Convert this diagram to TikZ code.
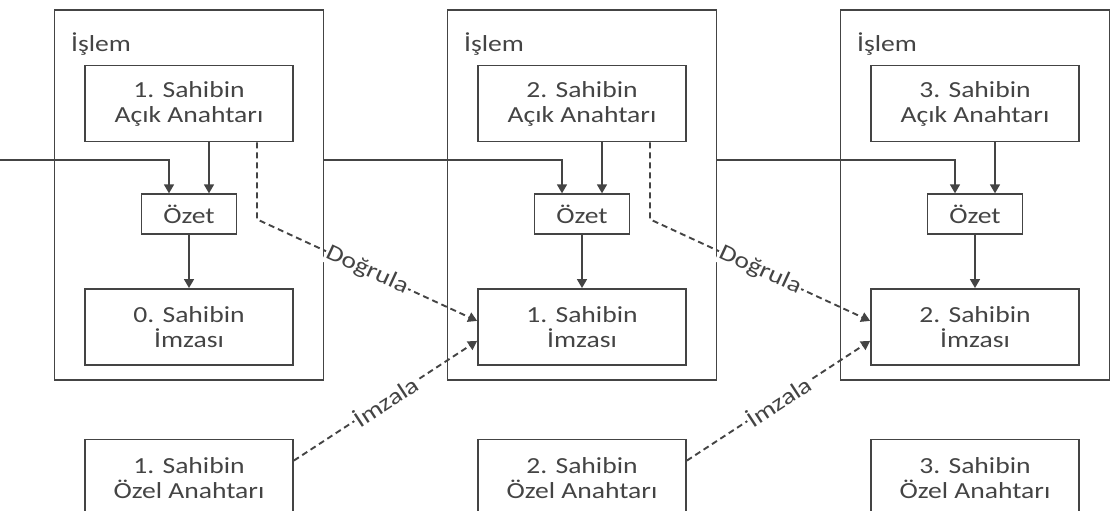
\documentclass[tikz,border=0pt]{standalone}
\usepackage{fontspec}
\setmainfont[FakeStretch=1.2]{Carlito}
\usepackage{xcolor}
\usetikzlibrary{arrows.meta,positioning}
\definecolor{bcgrey}{HTML}{444444}

\begin{document}
\begin{tikzpicture}[
  x=1pt,y=-1pt,
  every node/.style={font=\fontsize{23}{25}\selectfont,text=bcgrey},
  islembox/.style={rectangle,draw=bcgrey,line width=1.8pt,
                   minimum width=269pt,minimum height=370pt,inner sep=0pt},
  block/.style={rectangle,draw=bcgrey,line width=1.7pt,
                minimum width=208pt,minimum height=76pt,align=center,inner sep=2pt},
  ozetblock/.style={block,minimum width=95pt,minimum height=40pt},
  flow/.style={-{Triangle[length=9pt,width=10pt]},line width=1.6pt,draw=bcgrey},
  keyflow/.style={flow,line width=1.9pt,dash pattern=on 6pt off 4pt},
  lbl/.style={midway,sloped,fill=white,inner sep=1pt}
]
\useasboundingbox (0,0) rectangle (1112,511);

%% ---- first transaction ----
\node[islembox] (islem1) at (189,195) {};
\node[anchor=west] (islemlbl1) at ([xshift=14pt,yshift=-35pt]islem1.north west) {İşlem};
\node[block] (acik1) at (189,103.5) {1. Sahibin\\ Açık Anahtarı};
\node[ozetblock,below=51pt of acik1] (ozet1) {Özet};
\node[block,below=53pt of ozet1] (imza0) {0. Sahibin\\ İmzası};
\node[block,below=73pt of imza0] (ozel1) {1. Sahibin\\ Özel Anahtarı};

%% ---- second transaction ----
\node[islembox] (islem2) at (582,195) {};
\node[anchor=west] (islemlbl2) at ([xshift=14pt,yshift=-35pt]islem2.north west) {İşlem};
\node[block] (acik2) at (582,103.5) {2. Sahibin\\ Açık Anahtarı};
\node[ozetblock,below=51pt of acik2] (ozet2) {Özet};
\node[block,below=53pt of ozet2] (imza1) {1. Sahibin\\ İmzası};
\node[block,below=73pt of imza1] (ozel2) {2. Sahibin\\ Özel Anahtarı};

%% ---- third transaction ----
\node[islembox] (islem3) at (975,195) {};
\node[anchor=west] (islemlbl3) at ([xshift=14pt,yshift=-35pt]islem3.north west) {İşlem};
\node[block] (acik3) at (975,103.5) {3. Sahibin\\ Açık Anahtarı};
\node[ozetblock,below=51pt of acik3] (ozet3) {Özet};
\node[block,below=53pt of ozet3] (imza2) {2. Sahibin\\ İmzası};
\node[block,below=73pt of imza2] (ozel3) {3. Sahibin\\ Özel Anahtarı};

%% ---- hashing inside each transaction ----
\foreach \k/\j in {1/0,2/1,3/2}{
  \draw[flow] ([xshift=20pt]acik\k.south) -- ([xshift=20pt]ozet\k.north);
  \draw[flow] (ozet\k.south) -- (imza\j.north);
}

%% ---- links between transactions ----
\coordinate (giris) at (0,160);
\draw[flow] (giris) -| ([xshift=-20pt]ozet1.north);
\draw[flow] ([yshift=35pt]islem1.east) -| ([xshift=-20pt]ozet2.north);
\draw[flow] ([yshift=35pt]islem2.east) -| ([xshift=-20pt]ozet3.north);

%% ---- verify / sign ----
\draw[keyflow] ([xshift=68pt]acik1.south) -- ++(0,77) -- ([yshift=6pt]imza1.west) node[lbl] {Doğrula};
\draw[keyflow] ([xshift=68pt]acik2.south) -- ++(0,77) -- ([yshift=6pt]imza2.west) node[lbl] {Doğrula};
\draw[keyflow] ([yshift=17pt]ozel1.east) -- ([yshift=-14pt]imza1.west) node[lbl] {İmzala};
\draw[keyflow] ([yshift=17pt]ozel2.east) -- ([yshift=-14pt]imza2.west) node[lbl] {İmzala};

\end{tikzpicture}
\end{document}
